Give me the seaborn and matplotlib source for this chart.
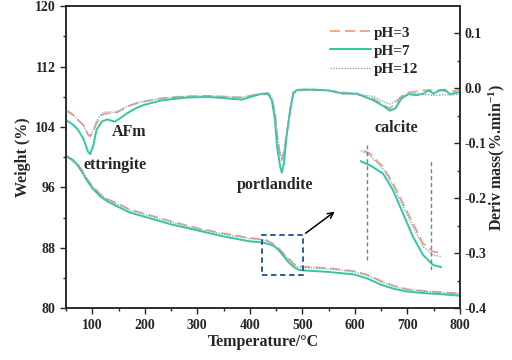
import numpy as np
import pandas as pd
import seaborn as sns
import matplotlib.pyplot as plt
from matplotlib.patches import Rectangle

# TG curves (weight %, left axis)
tg_temp = [50, 60, 70, 80, 90, 100, 115, 130, 150, 170, 200, 250, 300, 350, 400,
           423, 432.6, 445.4, 455.1, 464.7, 474.3, 484, 493.6, 502,
           550, 600, 625, 650, 675, 700, 730, 765, 800]
tg_ph3 = [100.2, 99.8, 99.3, 98.3, 97.1, 96.2, 95.1, 94.4, 93.8, 93.1, 92.5, 91.5, 90.6, 89.9, 89.3,
          89.13, 88.96, 88.49, 87.92, 87.22, 86.53, 85.83, 85.54, 85.5,
          85.3, 84.9, 84.4, 83.6, 82.95, 82.5, 82.3, 82.1, 81.95]
tg_ph7 = [100.1, 99.7, 99.1, 98.1, 96.9, 95.9, 94.8, 94.1, 93.4, 92.7, 92.1, 91.1, 90.3, 89.5, 88.85,
          88.7, 88.55, 88.26, 87.68, 86.87, 86.06, 85.43, 85.08, 85.0,
          84.8, 84.45, 83.9, 83.1, 82.55, 82.2, 82.0, 81.85, 81.65]
tg_ph12 = [100.2, 99.75, 99.25, 98.25, 97.05, 96.15, 95.0, 94.35, 93.7, 93.0, 92.4, 91.4, 90.5, 89.8, 89.2,
           89.08, 88.9, 88.42, 87.85, 87.12, 86.42, 85.72, 85.42, 85.37,
           85.2, 84.8, 84.3, 83.5, 82.85, 82.45, 82.25, 82.05, 81.9]

# DTG curves (%/min, right axis)
dtg_temp = [50, 58, 64, 73, 83, 92, 96, 102, 108, 118, 128, 143, 153, 166, 180, 197, 229, 261, 283,
            320, 360, 385, 405, 420, 435, 442, 448, 452, 458, 461, 465, 470, 477, 483, 489,
            514, 547, 578, 604, 635, 655, 667, 677, 689, 702, 718, 731, 740, 750, 762, 772, 781, 791, 800]
dtg_ph3 = [-0.040, -0.045, -0.049, -0.058, -0.067, -0.085, -0.088, -0.078, -0.064, -0.049, -0.046, -0.046, -0.041, -0.034, -0.029, -0.025, -0.019, -0.016, -0.015,
           -0.014, -0.016, -0.017, -0.013, -0.010, -0.009, -0.018, -0.045, -0.085, -0.125, -0.131, -0.118, -0.085, -0.040, -0.006, -0.003,
           -0.002, -0.004, -0.008, -0.011, -0.019, -0.031, -0.037, -0.028, -0.015, -0.008, -0.006, -0.004, -0.004, -0.004, -0.004, -0.005, -0.007, -0.005, -0.003]
dtg_ph7 = [-0.058, -0.063, -0.067, -0.076, -0.092, -0.116, -0.120, -0.104, -0.076, -0.061, -0.057, -0.061, -0.055, -0.046, -0.038, -0.031, -0.023, -0.019, -0.017,
           -0.016, -0.019, -0.021, -0.015, -0.011, -0.011, -0.022, -0.058, -0.107, -0.143, -0.154, -0.137, -0.088, -0.040, -0.010, -0.004,
           -0.003, -0.004, -0.010, -0.010, -0.022, -0.033, -0.041, -0.037, -0.019, -0.011, -0.013, -0.010, -0.004, -0.010, -0.004, -0.003, -0.011, -0.009, -0.007]
dtg_ph12 = [-0.042, -0.046, -0.050, -0.058, -0.068, -0.084, -0.087, -0.076, -0.060, -0.046, -0.043, -0.044, -0.040, -0.033, -0.028, -0.024, -0.019, -0.016, -0.015,
            -0.014, -0.016, -0.017, -0.013, -0.010, -0.009, -0.017, -0.043, -0.082, -0.120, -0.127, -0.114, -0.082, -0.038, -0.006, -0.003,
            -0.002, -0.004, -0.009, -0.012, -0.015, -0.025, -0.029, -0.024, -0.015, -0.010, -0.010, -0.012, -0.012, -0.013, -0.013, -0.012, -0.013, -0.012, -0.010]

labels = ['pH=3', 'pH=7', 'pH=12']
colors = {'pH=3': '#f4a07a', 'pH=7': '#2ec9a0', 'pH=12': '#8aa5d6'}
styles = {'pH=3': dict(dashes=(5.5, 2.8), linewidth=1.3),
          'pH=7': dict(linewidth=1.4),
          'pH=12': dict(dashes=(1, 1), linewidth=1.0)}

tg = pd.DataFrame({'temp': tg_temp * 3, 'val': tg_ph3 + tg_ph7 + tg_ph12,
                   'pH': np.repeat(labels, len(tg_temp))})
dtg = pd.DataFrame({'temp': dtg_temp * 3, 'val': dtg_ph3 + dtg_ph7 + dtg_ph12,
                    'pH': np.repeat(labels, len(dtg_temp))})

sns.set_style('ticks')
plt.rcParams['font.family'] = ['Liberation Serif', 'DejaVu Serif']
plt.rcParams['font.weight'] = 'bold'
plt.rcParams['axes.labelweight'] = 'bold'
plt.rcParams['mathtext.fontset'] = 'custom'
plt.rcParams['mathtext.rm'] = 'Liberation Serif:bold'
plt.rcParams['mathtext.it'] = 'Liberation Serif:bold'

fig = plt.figure(figsize=(5.12, 3.6), dpi=100)
ax = fig.add_axes([0.129, 0.144, 0.769, 0.839])
ax2 = ax.twinx()


def draw(target, df, legend=False):
    for lab in labels:
        sub = df[df.pH == lab]
        sns.lineplot(data=sub, x='temp', y='val', color=colors[lab], ax=target,
                     label=lab if legend else None, legend=False, sort=False, **styles[lab])
    target.set_xlabel('')
    target.set_ylabel('')


draw(ax, tg, legend=True)
draw(ax2, dtg)

ax.set_xlim(50, 800)
ax.set_ylim(80, 120)
ax2.set_ylim(-0.4, 0.149)
ax.set_xticks(range(100, 801, 100))
ax.set_xticks(range(50, 801, 50), minor=True)
ax.set_yticks(range(80, 121, 8))
ax.set_yticks(range(84, 121, 8), minor=True)
ax2.set_yticks([-0.4, -0.3, -0.2, -0.1, 0.0, 0.1])
ax2.set_yticks([-0.35, -0.25, -0.15, -0.05, 0.05], minor=True)
ax2.set_yticklabels(['-0.4', '-0.3', '-0.2', '-0.1', '0.0', '0.1'])

ax.tick_params(which='major', direction='out', length=4, width=1, labelsize=10)
ax.tick_params(which='minor', direction='out', length=2.5, width=1)
ax2.tick_params(which='major', direction='in', length=4, width=1, labelsize=10)
ax2.tick_params(which='minor', direction='in', length=2.5, width=1)
for a in (ax, ax2):
    for s in a.spines.values():
        s.set_linewidth(1.1)
        s.set_visible(True)

ax.set_xlabel('Temperature/°C', fontsize=11.5, labelpad=2)
ax.set_ylabel('Weight (%)', fontsize=11.5, labelpad=3)
ax2.set_ylabel(r'Deriv mass(%.min$^{-1}$)', fontsize=11.5, labelpad=0)

ax.legend(loc='upper left', bbox_to_anchor=(0.655, 0.955), frameon=False, fontsize=11,
          handlelength=2.7, handletextpad=0.15, labelspacing=0.3, borderaxespad=0)

# peak labels
ax.text(143, 99.0, 'ettringite', ha='center', va='center', fontsize=11.5)
ax.text(170, 103.3, 'AFm', ha='center', va='center', fontsize=11.5)
ax.text(448, 96.3, 'portlandite', ha='center', va='center', fontsize=11.5)
ax.text(680, 103.9, 'calcite', ha='center', va='center', fontsize=11.5)

# zoom box and arrow
ax.add_patch(Rectangle((423, 84.4), 79, 5.3, fill=False, edgecolor='#1f4e99',
                       linestyle=(0, (3, 2)), linewidth=1.3, zorder=5))
ax.annotate('', xy=(566, 93.0), xytext=(502, 89.7),
            arrowprops=dict(arrowstyle='->', color='black', lw=1.1))

# magnified inset of the portlandite step
ins = ax.inset_axes([0.746, 0.126, 0.208, 0.414])
ins.patch.set_alpha(0)
draw(ins, tg)
ins.set_xlim(423, 502)
ins.set_ylim(84.9, 89.25)
ins.axis('off')
ins.axvline(429.5, ymin=0.08, ymax=1.0, color='gray', linestyle=(0, (3, 2)), linewidth=1)
ins.axvline(492, ymin=0.0, ymax=0.87, color='gray', linestyle=(0, (3, 2)), linewidth=1)

fig.savefig('out.png', dpi=100)
